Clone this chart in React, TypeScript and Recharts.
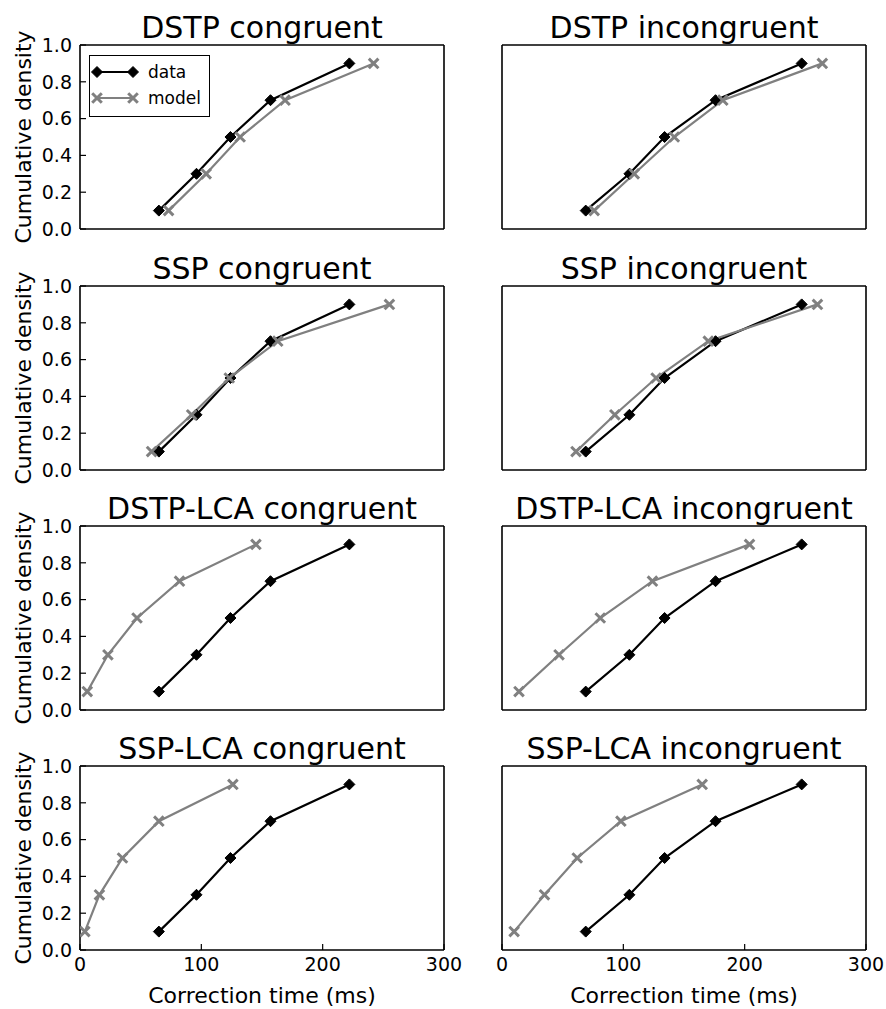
import React from 'react';
import { LineChart, Line, XAxis, YAxis, Legend } from 'recharts';

const quantiles = [0.1, 0.3, 0.5, 0.7, 0.9];
const xTicks = [0, 100, 200, 300];
const yTicks = [0, 0.2, 0.4, 0.6, 0.8, 1.0];

const titles = [
  'DSTP congruent', 'DSTP incongruent',
  'SSP congruent', 'SSP incongruent',
  'DSTP-LCA congruent', 'DSTP-LCA incongruent',
  'SSP-LCA congruent', 'SSP-LCA incongruent',
];

const dataCongruent = [65, 96, 124, 157, 222];
const dataIncongruent = [69, 105, 134, 176, 247];

const modelDstpCon = [73, 104, 132, 169, 242];
const modelDstpInc = [76, 109, 142, 182, 264];
const modelSspCon = [59, 92, 123, 163, 255];
const modelSspInc = [61, 93, 127, 170, 260];
const modelDstpLcaCon = [6, 23, 47, 82, 145];
const modelDstpLcaInc = [14, 47, 81, 124, 204];
const modelSspLcaCon = [4, 16, 35, 65, 126];
const modelSspLcaInc = [10, 35, 62, 98, 165];

const models = [
  modelDstpCon, modelDstpInc,
  modelSspCon, modelSspInc,
  modelDstpLcaCon, modelDstpLcaInc,
  modelSspLcaCon, modelSspLcaInc,
];

const FONT = '"DejaVu Sans", "Liberation Sans", sans-serif';
const GRAY = '#808080';

const PLOT_W = 364;
const PLOT_H = 184;
const LEFT_W = 80;
const TOP_M = 45;
const RIGHT_M = 24;
const COL_LEFT = [80, 502];
const ROW_TOP = [45, 286, 526, 766];

function diamondPath(cx: number, cy: number, r: number) {
  return `M${cx},${cy - r}L${cx + r},${cy}L${cx},${cy + r}L${cx - r},${cy}Z`;
}
function crossPath(cx: number, cy: number, r: number) {
  return `M${cx - r},${cy - r}L${cx + r},${cy + r}M${cx - r},${cy + r}L${cx + r},${cy - r}`;
}

const renderDiamond = (props: any) => {
  const { cx, cy, index } = props;
  if (cx == null || cy == null) return <g key={`d-${index}`} />;
  return <path key={`d-${index}`} d={diamondPath(cx, cy, 5.5)} fill="#000" stroke="#000" strokeWidth={1} />;
};
const renderCross = (props: any) => {
  const { cx, cy, index } = props;
  if (cx == null || cy == null) return <g key={`m-${index}`} />;
  return <path key={`m-${index}`} d={crossPath(cx, cy, 4.8)} fill="none" stroke={GRAY} strokeWidth={3} />;
};

const renderLegend = (props: any) => {
  const payload = (props.payload || []).filter((e: any) => e.value === 'data' || e.value === 'model');
  return (
    <div
      style={{
        width: 121,
        height: 62,
        boxSizing: 'border-box',
        border: '1.3px solid #000',
        background: '#fff',
        position: 'relative',
        fontFamily: FONT,
        fontSize: 17,
        color: '#000',
      }}
    >
      {payload.map((entry: any, i: number) => {
        const isData = entry.value === 'data';
        const color = isData ? '#000' : GRAY;
        return (
          <div
            key={`leg-${i}`}
            style={{ position: 'absolute', left: -1, top: 3 + i * 26, height: 26, display: 'flex', alignItems: 'center', whiteSpace: 'nowrap' }}
          >
            <svg width={50} height={26} style={{ display: 'block' }}>
              <line x1={8} x2={44} y1={13} y2={13} stroke={color} strokeWidth={2.2} />
              {isData ? (
                <>
                  <path d={diamondPath(8, 13, 5.5)} fill="#000" stroke="#000" strokeWidth={1} />
                  <path d={diamondPath(44, 13, 5.5)} fill="#000" stroke="#000" strokeWidth={1} />
                </>
              ) : (
                <>
                  <path d={crossPath(8, 13, 4.8)} fill="none" stroke={GRAY} strokeWidth={3} />
                  <path d={crossPath(44, 13, 4.8)} fill="none" stroke={GRAY} strokeWidth={3} />
                </>
              )}
            </svg>
            <span style={{ marginLeft: 9 }}>{entry.value}</span>
          </div>
        );
      })}
    </div>
  );
};

type PanelProps = {
  title: string;
  model: number[];
  data: number[];
  left: number;
  top: number;
  showX: boolean;
  showY: boolean;
  showLegend: boolean;
};

function Panel({ title, model, data, left, top, showX, showY, showLegend }: PanelProps) {
  const bottomH = showX ? 59 : 18;
  const width = LEFT_W + PLOT_W + RIGHT_M;
  const height = TOP_M + PLOT_H + bottomH;
  const dataPts = quantiles.map((q, i) => ({ x: data[i], y: q }));
  const modelPts = quantiles.map((q, i) => ({ x: model[i], y: q }));
  const axisLine = { stroke: '#000', strokeWidth: 1.6 };
  const tickLine = { stroke: '#000', strokeWidth: 1.2 };
  const tickStyle = { fill: '#000', fontSize: 19, fontFamily: FONT };

  return (
    <div style={{ position: 'absolute', left: left - LEFT_W, top: top - TOP_M, width, height }}>
      <div
        style={{
          position: 'absolute',
          left: LEFT_W,
          width: PLOT_W,
          top: 10,
          height: 35,
          lineHeight: '35px',
          textAlign: 'center',
          fontSize: 30,
          fontFamily: FONT,
          whiteSpace: 'nowrap',
          color: '#000',
        }}
      >
        {title}
      </div>
      <LineChart width={width} height={height} margin={{ top: TOP_M - 1, right: RIGHT_M - 1, bottom: 0, left: 0 }}>
        <XAxis
          xAxisId="b"
          dataKey="x"
          type="number"
          domain={[0, 300]}
          ticks={xTicks}
          allowDataOverflow
          height={bottomH}
          tickSize={-6}
          tickMargin={14}
          axisLine={axisLine}
          tickLine={tickLine}
          stroke="#000"
          tick={showX ? tickStyle : false}
          label={
            showX
              ? { value: 'Correction time (ms)', position: 'insideBottom', offset: 6, style: { fill: '#000', fontSize: 22, fontFamily: FONT } }
              : undefined
          }
        />
        <XAxis
          xAxisId="t"
          dataKey="x"
          orientation="top"
          type="number"
          domain={[0, 300]}
          ticks={xTicks}
          allowDataOverflow
          height={1}
          tickSize={-6}
          axisLine={axisLine}
          tickLine={tickLine}
          stroke="#000"
          tick={false}
        />
        <YAxis
          yAxisId="l"
          type="number"
          domain={[0, 1]}
          ticks={yTicks}
          allowDataOverflow
          width={LEFT_W}
          tickSize={-6}
          tickMargin={14}
          axisLine={axisLine}
          tickLine={tickLine}
          stroke="#000"
          tick={showY ? tickStyle : false}
          tickFormatter={(v: number) => v.toFixed(1)}
          label={
            showY
              ? {
                  value: 'Cumulative density',
                  angle: -90,
                  position: 'insideLeft',
                  offset: 23,
                  style: { textAnchor: 'middle', fill: '#000', fontSize: 22, fontFamily: FONT },
                }
              : undefined
          }
        />
        <YAxis
          yAxisId="r"
          orientation="right"
          type="number"
          domain={[0, 1]}
          ticks={yTicks}
          allowDataOverflow
          width={1}
          tickSize={-6}
          axisLine={axisLine}
          tickLine={tickLine}
          stroke="#000"
          tick={false}
        />
        <Line
          xAxisId="t"
          yAxisId="r"
          data={dataPts}
          dataKey="y"
          name="frame"
          stroke="none"
          dot={false}
          activeDot={false}
          legendType="none"
          isAnimationActive={false}
        />
        <Line
          xAxisId="b"
          yAxisId="l"
          data={dataPts}
          dataKey="y"
          name="data"
          stroke="#000"
          strokeWidth={2.2}
          dot={renderDiamond}
          activeDot={false}
          isAnimationActive={false}
        />
        <Line
          xAxisId="b"
          yAxisId="l"
          data={modelPts}
          dataKey="y"
          name="model"
          stroke={GRAY}
          strokeWidth={2.2}
          dot={renderCross}
          activeDot={false}
          isAnimationActive={false}
        />
        {showLegend && (
          <Legend
            layout="horizontal"
            align="center"
            verticalAlign="middle"
            content={renderLegend}
            wrapperStyle={{ left: 89, top: 55, width: 121, height: 62 }}
          />
        )}
      </LineChart>
    </div>
  );
}

export default function App() {
  return (
    <div style={{ position: 'relative', width: 886, height: 1009, background: '#fff', fontFamily: FONT, overflow: 'hidden' }}>
      <style>{'body{margin:0;background:#fff;}'}</style>
      {titles.map((t, i) => {
        const row = Math.floor(i / 2);
        const col = i % 2;
        return (
          <Panel
            key={t}
            title={t}
            model={models[i]}
            data={col === 0 ? dataCongruent : dataIncongruent}
            left={COL_LEFT[col]}
            top={ROW_TOP[row]}
            showX={row === 3}
            showY={col === 0}
            showLegend={i === 0}
          />
        );
      })}
    </div>
  );
}
